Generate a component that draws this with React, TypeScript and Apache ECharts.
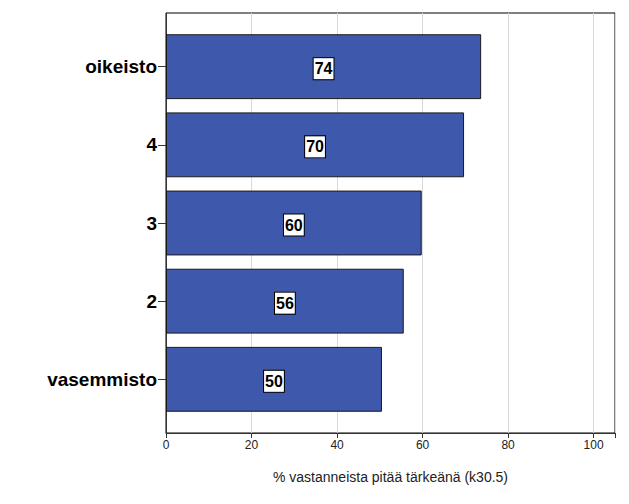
import React, { useEffect, useRef } from "react";
import * as echarts from "echarts";

const categories = ["oikeisto", "4", "3", "2", "vasemmisto"];
const values = [73.7, 69.7, 59.8, 55.6, 50.5];
const labels = ["74", "70", "60", "56", "50"];
const xTicks = [0, 20, 40, 60, 80, 100];
const axisTitle = "% vastanneista pitää tärkeänä (k30.5)";

const FONT = "Arial, 'Liberation Sans', sans-serif";

export default function App() {
  const ref = useRef<HTMLDivElement>(null);
  useEffect(() => {
    if (!ref.current) return;
    const chart = echarts.init(ref.current, null, { renderer: "svg" });
    chart.setOption({
      animation: false,
      backgroundColor: "#ffffff",
      grid: [
        {
          left: 166,
          top: 13,
          right: 14,
          bottom: 71,
          show: true,
          borderColor: "#000000",
          borderWidth: 1,
          backgroundColor: "transparent",
        },
        {
          left: 166,
          top: 27.6,
          right: 14,
          height: 390.8,
        },
      ],
      xAxis: [
        {
          gridIndex: 0,
          type: "value",
          min: 0,
          max: 105,
          interval: 20,
          name: axisTitle,
          nameLocation: "middle",
          nameGap: 37,
          nameTextStyle: { fontFamily: FONT, fontSize: 14, color: "#222" },
          axisLine: { show: true, lineStyle: { color: "#333", width: 1 } },
          axisTick: { show: true, length: 5, lineStyle: { color: "#333" } },
          axisLabel: {
            fontFamily: FONT,
            fontSize: 12,
            color: "#222",
            margin: 6,
            formatter: (v: number) => (xTicks.includes(v) ? String(v) : ""),
          },
          splitLine: { show: true, lineStyle: { color: "#d9d9d9", width: 1 } },
        },
        {
          gridIndex: 1,
          type: "value",
          min: 0,
          max: 105,
          show: false,
        },
      ],
      yAxis: [
        {
          gridIndex: 0,
          type: "value",
          min: 0,
          max: 1,
          axisLine: { show: true, lineStyle: { color: "#333", width: 1 } },
          axisTick: { show: false },
          axisLabel: { show: false },
          splitLine: { show: false },
        },
        {
          gridIndex: 1,
          type: "category",
          data: categories,
          inverse: true,
          axisLine: { show: false },
          axisTick: { show: true, length: 8, alignWithLabel: true, lineStyle: { color: "#333" } },
          axisLabel: {
            fontFamily: FONT,
            fontSize: 19,
            fontWeight: "bold",
            color: "#000",
            margin: 9,
            padding: [4, 0, 0, 0],
          },
          splitLine: { show: false },
        },
      ],
      series: [
        {
          type: "bar",
          xAxisIndex: 1,
          yAxisIndex: 1,
          data: values,
          barCategoryGap: "17%",
          itemStyle: { color: "#3E58AC", borderColor: "#1a1a1a", borderWidth: 1 },
          label: {
            show: true,
            position: "inside",
            offset: [0, 2],
            formatter: (p: any) => labels[p.dataIndex],
            fontFamily: FONT,
            fontSize: 16,
            fontWeight: "bold",
            color: "#000",
            backgroundColor: "#ffffff",
            borderColor: "#000",
            borderWidth: 1,
            lineHeight: 18,
            padding: [2, 1, 1, 1],
          },
        },
      ],
    });
    return () => chart.dispose();
  }, []);
  return (
    <div
      ref={ref}
      style={{ position: "fixed", left: 0, top: 0, width: 629, height: 504 }}
    />
  );
}
